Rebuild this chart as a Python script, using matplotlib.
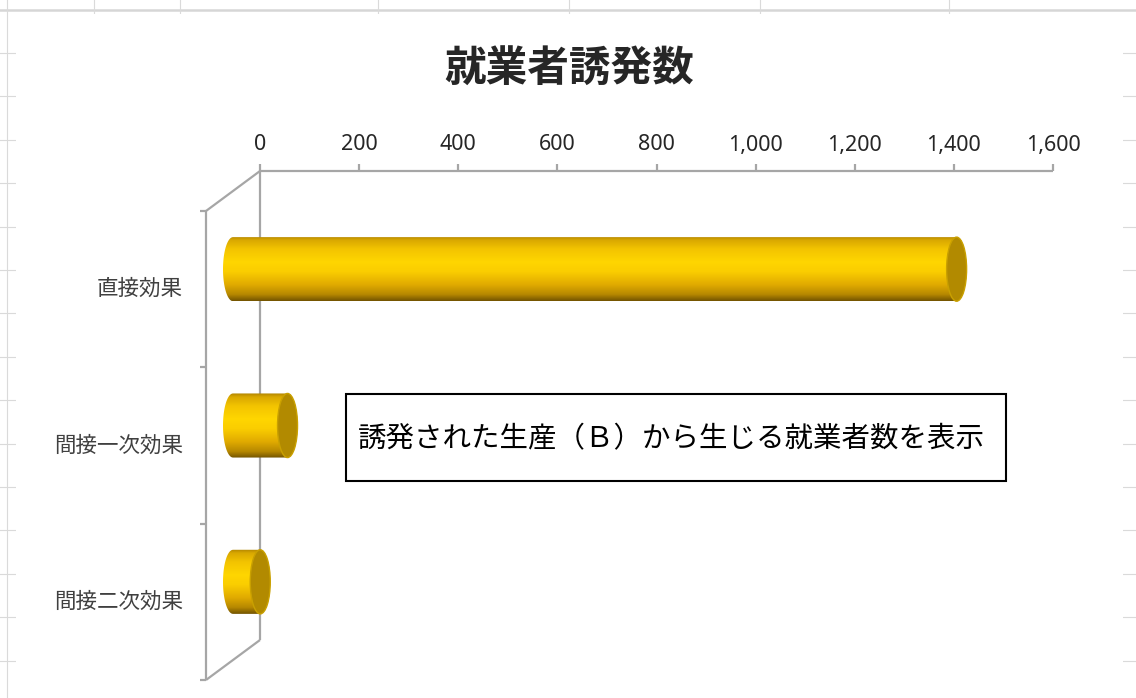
import numpy as np
import matplotlib.pyplot as plt
from matplotlib.patches import Ellipse, Rectangle, PathPatch
from matplotlib.path import Path
from matplotlib.colors import LinearSegmentedColormap

W, H, DPI = 1136, 698, 100

# --- datos ---
categorias = ['直接効果', '間接一次効果', '間接二次効果']
valores = [1460, 110, 55]
ticks_x = np.arange(0, 1601, 200)
titulo = '就業者誘発数'
nota = '誘発された生産（Ｂ）から生じる就業者数を表示'

plt.rcParams['font.family'] = ['Noto Sans CJK JP', 'DejaVu Sans']

GRIS = '#A6A6A6'
TEXTO = '#262626'

fig = plt.figure(figsize=(W / DPI, H / DPI), dpi=DPI)
fig.patch.set_facecolor('white')

# ----------------------------------------------------------------------
#   fondo: cuadricula de la hoja y area blanca del grafico (en pixeles)
# ----------------------------------------------------------------------
bg = fig.add_axes([0, 0, 1, 1])
bg.set_xlim(0, W); bg.set_ylim(H, 0); bg.axis('off')

for k in range(1, 17):
    bg.axhline(9.5 + 43.4 * k, color='#DADADA', lw=0.8, zorder=1)
bg.axhline(10, color='#D6D6D6', lw=1.8, zorder=1)
for xc in [7, 94, 180, 378, 569, 760, 949]:
    bg.axvline(xc, color='#DADADA', lw=0.8, zorder=1)
bg.add_patch(Rectangle((16, 14), 1107, 700, facecolor='white', edgecolor='none', zorder=2))

# cuadro de texto
bg.add_patch(Rectangle((346, 394), 660, 87, facecolor='white', edgecolor='black',
                       lw=1.5, zorder=10))
bg.text(671, 439, nota, ha='center', va='center', fontsize=20.5, color='black', zorder=11)

fig.text(569 / W, 1 - 70 / H, titulo, ha='center', va='center', fontsize=30,
         fontweight='bold', color='#262626')

# ----------------------------------------------------------------------
#   grafico de barras cilindricas (pseudo 3D)
# ----------------------------------------------------------------------
ax = fig.add_axes([0, 0, 1, 1])
ax.axis('off')
ax.patch.set_visible(False)

px_cero, px_max = 260, 1053        # posicion de 0 y 1600 en el eje superior
y_eje, y_fondo = 171, 640          # pared del fondo (arriba / abajo)
esc_x = (px_max - px_cero) / ticks_x[-1]
esc_y = (y_fondo - y_eje) / len(categorias)

# profundidad del plano frontal (en unidades de datos)
prof_x = -54 / esc_x
prof_y = 40 / esc_y
y0, y1 = -0.5, len(categorias) - 0.5

# marco: eje superior, pared del fondo, eje de categorias frontal y diagonales
kw = dict(color=GRIS, lw=1.6, solid_capstyle='butt', zorder=2)
ax.plot([0, ticks_x[-1]], [y0, y0], **kw)
ax.plot([0, 0], [y0, y1], **kw)
ax.plot([prof_x, prof_x], [y0 + prof_y, y1 + prof_y], **kw)
ax.plot([prof_x, 0], [y0 + prof_y, y0], **kw)
ax.plot([prof_x, 0], [y1 + prof_y, y1], **kw)

# marcas y etiquetas del eje de valores
for t in ticks_x:
    ax.plot([t, t], [y0, y0 - 7 / esc_y], **kw)
    ax.text(t, y0 - 26 / esc_y, f'{t:,}', ha='center', va='center', fontsize=15.5,
            family=['Noto Sans'], color=TEXTO)

# marcas y etiquetas del eje de categorias
for b in np.arange(y0, y1 + 0.01, 1.0):
    ax.plot([prof_x - 6 / esc_x, prof_x], [b + prof_y, b + prof_y], **kw)
for i, nombre in enumerate(categorias):
    ax.text(prof_x - 23 / esc_x, i + prof_y, nombre, ha='right', va='center',
            fontsize=15.5, color='#404040')

# degradado vertical del cuerpo del cilindro
cmap = LinearSegmentedColormap.from_list('oro', [
    (0.00, '#B08400'), (0.06, '#D9A800'), (0.20, '#F3C400'), (0.40, '#FFD600'),
    (0.55, '#FACD00'), (0.75, '#E0AA00'), (0.90, '#B68800'), (1.00, '#725300')])
grad = np.linspace(0, 1, 256)[:, None]

semi_h = 0.205                     # media altura de la barra (categorias)
semi_w = 10 / esc_x                # semieje horizontal de la tapa
t_izq = np.linspace(np.pi / 2, 3 * np.pi / 2, 40)
t_der = np.linspace(-np.pi / 2, np.pi / 2, 40)

for i, v in enumerate(valores):
    xa = prof_x / 2
    yc = i + prof_y / 2
    xb = xa + v
    izq = np.column_stack([xa + semi_w * np.cos(t_izq), yc - semi_h * np.sin(t_izq)])
    der = np.column_stack([xb + semi_w * np.cos(t_der), yc - semi_h * np.sin(t_der)])
    verts = np.vstack([izq, der, izq[:1]])
    silueta = PathPatch(Path(verts), facecolor='none', edgecolor='none', zorder=4)
    ax.add_patch(silueta)
    im = ax.imshow(grad, cmap=cmap, aspect='auto', interpolation='bilinear',
                   extent=[xa - semi_w, xb + semi_w, yc + semi_h, yc - semi_h], zorder=4)
    im.set_clip_path(silueta)
    ax.add_patch(Ellipse((xb, yc), 2 * semi_w, 2 * semi_h, facecolor='#B28A00',
                         edgecolor='#C9A000', lw=1.0, zorder=5))

ax.set_xlim(-px_cero / esc_x, (W - px_cero) / esc_x)
ax.set_ylim(-0.5 + (H - y_eje) / esc_y, -0.5 - y_eje / esc_y)

fig.savefig('out.png', dpi=DPI)
